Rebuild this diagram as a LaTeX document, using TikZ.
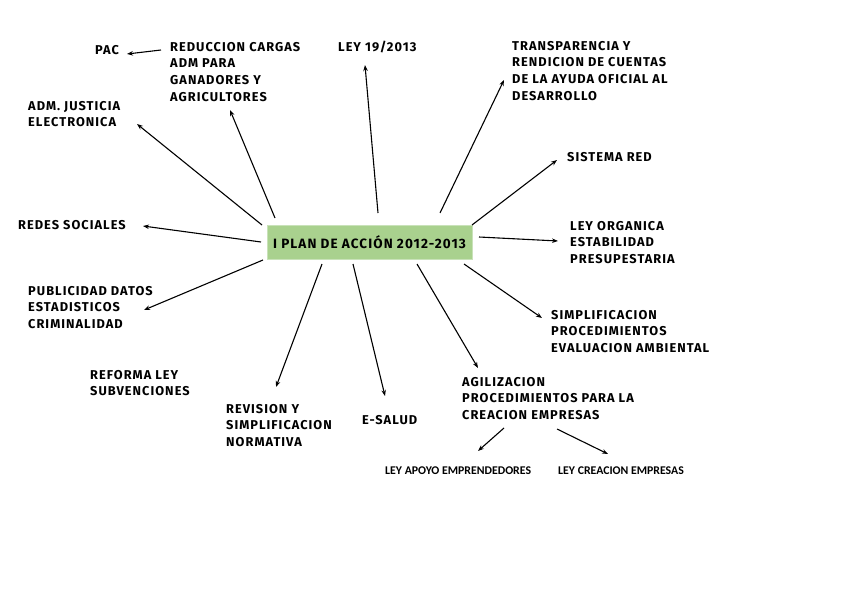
\documentclass[tikz,border=0pt]{standalone}
\usepackage{fontspec}
\setmainfont{Fira Sans}
\newfontfamily\handfont[LetterSpace=8]{Fira Sans}
\newfontfamily\calfont{Carlito}
\usetikzlibrary{arrows.meta}
\definecolor{boxgreen}{HTML}{A9D18E}
\definecolor{boxedge}{HTML}{C9E2B9}
\tikzset{
  lbl/.style={inner sep=0pt, align=left, font=\handfont\bfseries\fontsize{12.8}{16.6}\selectfont},
  lblc/.style={inner sep=0pt, font=\calfont\bfseries\fontsize{11.8}{13}\selectfont},
  arr/.style={-{Stealth[length=6pt,width=4.5pt]}, line width=1.1pt},
  central/.style={fill=boxgreen, draw=boxedge, line width=1pt, minimum width=205pt, minimum height=34pt, inner sep=0pt, font=\handfont\bfseries\fontsize{13.5}{15}\selectfont}
}
\begin{document}
\begin{tikzpicture}[x=1pt,y=-1pt]
\useasboundingbox (0,0) rectangle (848,599);
\fill[white] (0,0) rectangle (848,599);
\node[central] (c) at (369.5,242) {I PLAN DE ACCIÓN 2012-2013};

% labels
\node[lbl, anchor=west] (pac) at (95,50) {PAC};
\node[lbl, anchor=north west] (red) at (170,42) {REDUCCION CARGAS\\ADM PARA\\GANADORES Y\\AGRICULTORES};
\node[lbl, anchor=west] (ley19) at (338,47) {LEY 19/2013};
\node[lbl, anchor=north west] (trans) at (512,41) {TRANSPARENCIA Y\\RENDICION DE CUENTAS\\DE LA AYUDA OFICIAL AL\\DESARROLLO};
\node[lbl, anchor=north west] (adm) at (28,101) {ADM. JUSTICIA\\ELECTRONICA};
\node[lbl, anchor=west] (sis) at (567,157) {SISTEMA RED};
\node[lbl, anchor=north west] (lo) at (570,221) {LEY ORGANICA\\ESTABILIDAD\\PRESUPESTARIA};
\node[lbl, anchor=west] (redes) at (18,225) {REDES SOCIALES};
\node[lbl, anchor=north west] (pub) at (28,286) {PUBLICIDAD DATOS\\ESTADISTICOS\\CRIMINALIDAD};
\node[lbl, anchor=north west] (simp) at (551,310) {SIMPLIFICACION\\PROCEDIMIENTOS\\EVALUACION AMBIENTAL};
\node[lbl, anchor=north west] (ref) at (90,370) {REFORMA LEY\\SUBVENCIONES};
\node[lbl, anchor=north west] (rev) at (226,404) {REVISION Y\\SIMPLIFICACION\\NORMATIVA};
\node[lbl, anchor=west] (sal) at (362,420) {E-SALUD};
\node[lbl, anchor=north west] (agi) at (462,377) {AGILIZACION\\PROCEDIMIENTOS PARA LA\\CREACION EMPRESAS};
\node[lblc, anchor=west] (apo) at (385,471) {LEY APOYO EMPRENDEDORES};
\node[lblc, anchor=west] (cre) at (558,471) {LEY CREACION EMPRESAS};

% connector end points
\coordinate (pacS) at (161,50);   \coordinate (pacE) at (127,54);
\coordinate (admS) at (262,225);  \coordinate (admE) at (137,124);
\coordinate (redS) at (275,218);  \coordinate (redE) at (230,110);
\coordinate (leyS) at (378,213);  \coordinate (leyE) at (365,65);
\coordinate (traS) at (440,213);  \coordinate (traE) at (504,80);
\coordinate (sisS) at (472,225);  \coordinate (sisE) at (557,160);
\coordinate (loS)  at (479,237);  \coordinate (loE)  at (558,241);
\coordinate (simS) at (464,264);  \coordinate (simE) at (542,318);
\coordinate (agiS) at (417,264);  \coordinate (agiE) at (478,368);
\coordinate (salS) at (353,264);  \coordinate (salE) at (385,396);
\coordinate (revS) at (322,264);  \coordinate (revE) at (276,387);
\coordinate (pubS) at (263,260);  \coordinate (pubE) at (144,310);
\coordinate (rdsS) at (261,242);  \coordinate (rdsE) at (143,226);
\coordinate (apoS) at (504,428);  \coordinate (apoE) at (478,451);
\coordinate (creS) at (557,429);  \coordinate (creE) at (608,454);

\foreach \n in {pac,adm,red,ley,tra,sis,lo,sim,agi,sal,rev,pub,rds,apo,cre}
  \draw[arr] (\n S) -- (\n E);
\end{tikzpicture}
\end{document}
